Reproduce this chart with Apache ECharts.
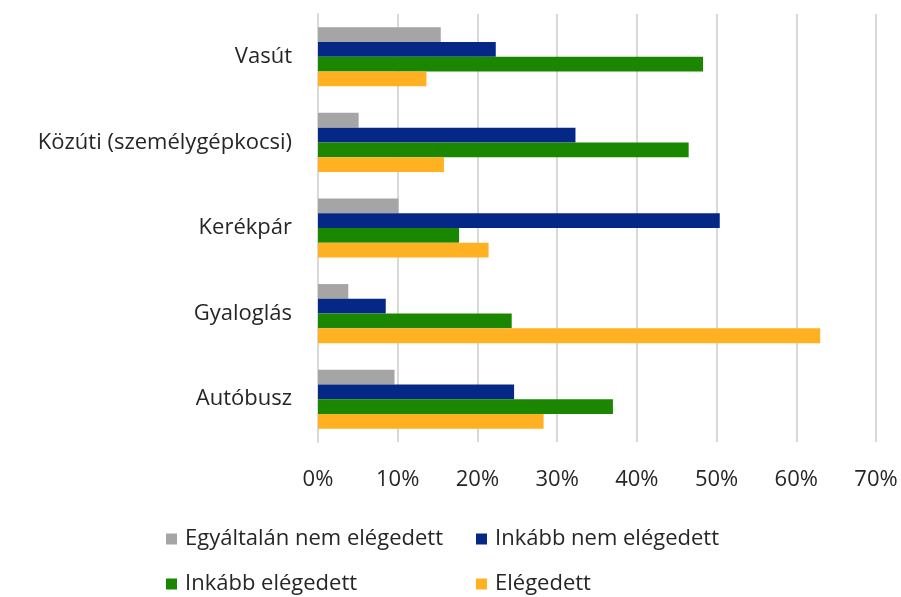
<!DOCTYPE html>
<html><head><meta charset="utf-8">
<script src="https://cdn.jsdelivr.net/npm/echarts@6/dist/echarts.min.js"></script>
<style>html,body{margin:0;padding:0;background:#fff}#c{width:901px;height:597px}</style>
</head><body><div id="c"></div>
<script>
const categories = ['Vasút', 'Közúti (személygépkocsi)', 'Kerékpár', 'Gyaloglás', 'Autóbusz'];
const seriesNames = ['Egyáltalán nem elégedett', 'Inkább nem elégedett', 'Inkább elégedett', 'Elégedett'];
const egyaltalanNem = [15.4, 5.1, 10.1, 3.8, 9.6];
const inkabbNem = [22.3, 32.3, 50.4, 8.5, 24.6];
const inkabbElegedett = [48.3, 46.5, 17.7, 24.3, 37.0];
const elegedett = [13.6, 15.8, 21.4, 63.0, 28.3];
const xTicks = [0, 10, 20, 30, 40, 50, 60, 70];

const colors = ['#A5A5A5', '#052887', '#1B8700', '#FFB122'];
const values = [egyaltalanNem, inkabbNem, inkabbElegedett, elegedett];
const font = 'Open Sans';
const fs = 22;
const legendPos = [[166, 528], [476, 528], [166, 573], [476, 573]];
const chart = echarts.init(document.getElementById('c'), null, {renderer: 'canvas'});
chart.setOption({
  animation: false,
  textStyle: {fontFamily: font},
  color: colors,
  grid: {left: 318, right: 25, top: 14, bottom: 155, containLabel: false},
  legend: seriesNames.map((n, i) => ({
    data: [n], left: legendPos[i][0], top: legendPos[i][1], padding: 0,
    itemWidth: 11, itemHeight: 11, icon: 'rect',
    textStyle: {fontSize: fs, color: '#262626', fontFamily: font, padding: [0, 0, 0, 3]}
  })),
  xAxis: {
    type: 'value', min: xTicks[0], max: xTicks[xTicks.length - 1], interval: 10,
    axisLine: {show: false}, axisTick: {show: false},
    splitLine: {lineStyle: {color: '#D9D9D9', width: 2}},
    axisLabel: {formatter: v => v + '%', fontSize: fs, color: '#262626', margin: 27, fontFamily: font}
  },
  yAxis: {
    type: 'category', data: categories, inverse: true,
    axisLine: {show: true, lineStyle: {color: '#D9D9D9', width: 2}},
    axisTick: {show: false},
    axisLabel: {fontSize: fs, color: '#262626', margin: 26, fontFamily: font, padding: [5, 0, 0, 0]}
  },
  series: values.map((d, i) => ({
    name: seriesNames[i], type: 'bar', data: d,
    barGap: '0%', barCategoryGap: '31%',
    itemStyle: {color: colors[i]}
  }))
});
</script></body></html>
